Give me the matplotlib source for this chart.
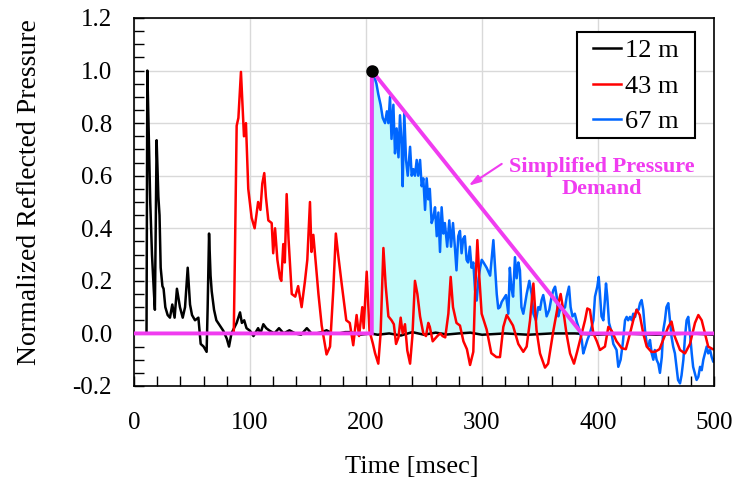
import matplotlib
matplotlib.use("Agg")
import matplotlib.pyplot as plt
from matplotlib.ticker import MultipleLocator
from matplotlib.patches import Rectangle
import numpy as np

plt.rcParams['font.family'] = ['Liberation Serif', 'DejaVu Serif']

# ---------------- data (time [ms], normalized pressure) ----------------
series_12m = [
    (0, 0), (10.8, 0), (11.5, 1.0), (12.5, 0.8), (14, 0.5), (15.5, 0.3), (17, 0.17),
    (18, 0.09), (19.5, 0.735), (21, 0.52), (22, 0.45), (23, 0.25), (24.5, 0.18),
    (25.5, 0.17), (27, 0.1), (29, 0.07), (31, 0.06), (33, 0.11), (35, 0.06),
    (37, 0.17), (38.5, 0.13), (39.6, 0.1), (42, 0.06), (44, 0.1), (46.3, 0.25),
    (48.3, 0.11), (50, 0.07), (52.6, 0.05), (55.5, 0.06), (57.5, -0.04), (60, -0.05),
    (62.6, -0.07), (63.5, 0.1), (64.7, 0.38), (66, 0.22), (67, 0.16), (69, 0.09),
    (71, 0.05), (74, 0.03), (77, 0.01), (80, -0.02), (81.9, -0.05), (84, 0.0),
    (88.5, 0.04), (91.4, 0.08), (93, 0.04), (95, 0.05), (97, 0.02), (100, 0.01),
    (103, -0.01), (107, 0.02), (109, 0.0), (111.5, 0.035), (114, 0.02), (117, 0.01),
    (121, 0.0), (125, 0.02), (129, 0.0), (134, 0.012), (139, 0.0), (144, -0.005),
    (149, 0.02), (153, 0.0), (157, 0.0), (162, 0.005), (166, 0.012), (171, 0.0),
    (177, 0.0), (182, 0.005), (186, 0.005), (195, -0.005), (204, 0.0), (210, -0.005),
    (220, 0.0), (230, -0.008), (240, 0.005), (250, -0.005), (260, 0.003),
    (270, -0.004), (280, 0.0), (290, 0.003), (300, -0.005), (320, 0.0),
    (340, -0.005), (360, 0.0), (380, 0.0), (400, -0.005), (420, 0.0),
    (450, -0.005), (480, 0.0), (500, -0.005),
]

series_43m = [
    (0, 0), (86, 0), (87, 0.3), (88.5, 0.79), (90, 0.82), (91, 0.9), (92.2, 0.995),
    (93.7, 0.85), (94.8, 0.75), (96.5, 0.8), (98.5, 0.55), (101.4, 0.44), (104, 0.40),
    (107, 0.5), (109, 0.47), (110.6, 0.57), (112.3, 0.61), (113.7, 0.52),
    (115.8, 0.43), (118.7, 0.42), (120, 0.305), (121.6, 0.40), (123.6, 0.28),
    (125.9, 0.21), (127, 0.2), (128.7, 0.34), (130, 0.27), (131.6, 0.53),
    (133.2, 0.36), (136, 0.15), (139, 0.14), (141.5, 0.18), (144.5, 0.10),
    (147.4, 0.2), (149.4, 0.28), (151.7, 0.5), (153, 0.31), (154.6, 0.375),
    (157, 0.25), (159, 0.15), (161.8, 0.03), (166, -0.08), (169, -0.05),
    (171.8, 0.165), (174, 0.38), (176, 0.3), (179, 0.19), (183, 0.05), (186, 0.04),
    (189, -0.045), (191.9, 0.07), (194, -0.01), (196.8, 0.1), (198, 0.02),
    (200.6, 0.235), (203, 0.01), (206, -0.04), (207.8, -0.075), (210.6, -0.115),
    (212.6, 0.0), (215, 0.325), (217, 0.18), (219.3, 0.065), (222, 0.05),
    (224, 0.035), (225.9, -0.04), (228, -0.015), (229.9, 0.06), (231.6, 0.0),
    (233.6, 0.035), (235.6, -0.065), (238, -0.115), (240, -0.01), (242.2, 0.2),
    (244.3, 0.15), (246.6, 0.065), (249.4, 0.0), (251.7, -0.01), (253.7, 0.04),
    (255, 0.025), (257.5, -0.03), (259.5, -0.02), (261.5, -0.01), (264, 0.0),
    (266, -0.01), (268.3, -0.015), (271, 0.075), (273, 0.215), (275, 0.1),
    (278, 0.04), (281, 0.03), (284, -0.03), (287, -0.06), (289.7, -0.12),
    (292.5, -0.07), (294, 0.15), (296, 0.355), (297.6, 0.22), (299.7, 0.075),
    (304, 0.015), (308, -0.075), (312.4, -0.09), (315.5, -0.09), (318.4, 0.025),
    (321.3, 0.07), (324, 0.05), (326.7, 0.03), (331.3, -0.04), (335.6, -0.07),
    (338.5, -0.05), (341.4, 0.05), (344.3, 0.19), (345.7, 0.1), (347, 0.013),
    (350, -0.076), (354.3, -0.13), (357, -0.115), (361.5, 0.01), (365.8, 0.115),
    (367.8, 0.15), (370, 0.09), (372.8, 0.0), (375.9, -0.076), (379.3, -0.115),
    (382, -0.07), (386, 0.0), (388.8, 0.05), (390.8, 0.095), (393, 0.09),
    (396, 0.0), (399, -0.03), (401.7, -0.063), (406, -0.05), (408.9, 0.025),
    (411.8, 0.01), (416, -0.03), (420.4, -0.056), (424, -0.06), (427.6, 0.0),
    (430.4, 0.05), (433.3, 0.09), (436, 0.07), (439, 0.0), (442, -0.05),
    (446, -0.07), (449, -0.07), (453, -0.06), (457.5, -0.01), (460.6, 0.025),
    (463.4, 0.045), (466, -0.01), (470.7, -0.063), (475, -0.076), (479.3, -0.04),
    (483.6, 0.04), (486.5, 0.07), (489.4, 0.05), (492.2, 0.0), (495, -0.05),
    (499, -0.06), (500, -0.06),
]

series_67m = [
    (204.5, 0.0), (205.5, 1.0), (206.3, 0.99), (209, 0.95), (210.6, 0.91),
    (212.6, 0.87), (214.4, 0.82), (216.4, 0.8), (218, 0.845), (219.3, 0.8),
    (220.7, 0.9), (222, 0.74), (223.6, 0.87), (225, 0.685), (226.4, 0.78),
    (228, 0.67), (229.3, 0.83), (230.7, 0.72), (231.6, 0.56), (233, 0.84),
    (234.5, 0.66), (236, 0.6), (238, 0.71), (239.4, 0.6), (240.8, 0.625),
    (242.2, 0.6), (243.7, 0.66), (245, 0.6), (246.6, 0.66), (248, 0.56),
    (249.4, 0.59), (250.9, 0.47), (252.3, 0.59), (253.7, 0.51), (255, 0.55),
    (256.6, 0.42), (258, 0.44), (259.5, 0.48), (261, 0.37), (262.4, 0.46),
    (263.8, 0.31), (265.2, 0.48), (266.7, 0.38), (268, 0.42), (270, 0.33),
    (271.8, 0.43), (273.3, 0.33), (275, 0.42), (276.6, 0.33), (278, 0.24),
    (279.5, 0.37), (281, 0.39), (282.4, 0.305), (283.8, 0.36), (285.2, 0.37),
    (286.7, 0.28), (288, 0.27), (289.5, 0.33), (291, 0.25), (292.5, 0.27),
    (294, 0.165), (295.4, 0.125), (297, 0.21), (298.4, 0.25), (299.8, 0.28),
    (301.3, 0.27), (304, 0.25), (307, 0.22), (309.8, 0.355), (311.3, 0.25),
    (312.7, 0.15), (314, 0.095), (315.5, 0.1), (317, 0.12), (318.4, 0.13),
    (320.7, 0.146), (322.7, 0.075), (324, 0.25), (325.4, 0.17), (326.8, 0.14),
    (328.4, 0.29), (329.9, 0.21), (331.3, 0.27), (332.7, 0.24), (334, 0.1),
    (335.6, 0.075), (337, 0.11), (338.5, 0.15), (340.8, 0.2), (342.8, 0.15),
    (344.3, 0.075), (346.5, 0.05), (348.5, 0.1), (350, 0.09), (351.4, 0.127),
    (352.8, 0.146), (354.3, 0.11), (355.7, 0.065), (358, 0.09), (360, 0.14),
    (361.5, 0.165), (363, 0.178), (364.4, 0.14), (365.8, 0.065), (367.2, 0.09),
    (368.7, 0.11), (370, 0.09), (371.6, 0.1), (373, 0.14), (375, 0.178),
    (376.4, 0.1), (378, 0.065), (380, 0.075), (382, 0.04), (384, 0.013),
    (386, -0.025), (387.3, -0.076), (388.8, -0.055), (390.8, -0.025), (393, 0.0),
    (396, 0.05), (397.4, 0.14), (399.4, 0.178), (400.6, 0.215), (401.7, 0.15),
    (403, 0.065), (404.6, 0.05), (406, 0.13), (406.9, 0.19), (408, 0.14),
    (409.5, 0.04), (411.2, 0.013), (413.2, -0.04), (416, -0.063), (417.5, -0.127),
    (419.5, -0.1), (421.3, -0.04), (423.3, 0.05), (424.7, 0.063), (426, 0.05),
    (427.6, 0.063), (429, 0.05), (430.4, 0.075), (432, 0.063), (433.3, 0.09),
    (435, 0.09), (436.2, 0.115), (437.6, 0.127), (439, 0.09), (440.5, 0.013),
    (442, -0.04), (443.4, -0.05), (444.8, -0.025), (446.3, -0.076), (447.7, -0.1),
    (449, -0.063), (450.5, -0.1), (452, -0.115), (453.4, -0.15), (455, -0.09),
    (456.3, 0.013), (457.7, 0.05), (459, 0.1), (460.6, 0.115), (462, 0.05),
    (463.4, -0.013), (464.8, -0.05), (466.3, -0.076), (467.7, -0.127),
    (469, -0.177), (470.7, -0.19), (472, -0.16), (473.6, -0.1), (475, -0.013),
    (476.4, 0.05), (477.8, 0.063), (479.3, 0.0), (480.8, -0.076), (482, -0.127),
    (485, -0.177), (486.5, -0.165), (488, -0.127), (489.4, -0.14), (490.8, -0.1),
    (492.2, -0.076), (493.7, -0.05), (495, -0.076), (496.6, -0.063), (498, -0.09),
    (499.4, -0.108), (500, -0.1),
]

demand_t = [0, 205, 205, 386, 500]
demand_p = [0, 0, 1.0, 0, 0]
peak_point = (205, 1.0)
labels = ['12 m', '43 m', '67 m']
colors = ['#000000', '#ff0000', '#0066ff']
magenta = '#f03cf0'

# ---------------- figure ----------------
fig = plt.figure(figsize=(7.36, 4.83), dpi=100)
ax = fig.add_axes([134 / 736, 1 - 386 / 483, 580 / 736, 368 / 483])

t67 = np.array([p[0] for p in series_67m])
v67 = np.array([p[1] for p in series_67m])
mask = (t67 >= 205) & (t67 <= 386)
ax.fill_between(t67[mask], 0, v67[mask], where=v67[mask] > 0, interpolate=True,
                color='#c4fafa', zorder=1, linewidth=0)

for s, lab, col, z in zip([series_12m, series_43m, series_67m], labels, colors,
                          [2.0, 2.3, 2.2]):
    t = [p[0] for p in s]
    v = [p[1] for p in s]
    ax.plot(t, v, color=col, lw=1.8, label=lab, zorder=z)

ax.plot(demand_t, demand_p, color=magenta, lw=2.8, zorder=3, solid_joinstyle='miter')
ax.plot([peak_point[0]], [peak_point[1]], 'o', color='black', ms=8, zorder=4)

ax.annotate('', xy=(288.5, 0.562), xytext=(317, 0.645),
            arrowprops=dict(arrowstyle='-|>,head_length=0.7,head_width=0.22',
                            color=magenta, lw=1.5, shrinkA=0, shrinkB=0), zorder=5)
ax.text(403, 0.591, 'Simplified Pressure\nDemand', color=magenta, fontsize=16,
        fontweight='bold', ha='center', va='center', linespacing=1.1, zorder=5)

ax.set_xlim(0, 500)
ax.set_ylim(-0.2, 1.2)
ax.xaxis.set_major_locator(MultipleLocator(100))
ax.xaxis.set_minor_locator(MultipleLocator(20))
ax.yaxis.set_major_locator(MultipleLocator(0.2))
ax.yaxis.set_minor_locator(MultipleLocator(0.05))
ax.yaxis.set_major_formatter(plt.FuncFormatter(lambda v, p: f'{v:.1f}'))
ax.tick_params(which='both', direction='in', length=7, width=1, labelsize=18,
               top=False, right=False)
ax.tick_params(axis='x', pad=19)
ax.tick_params(axis='y', pad=16)
ax.grid(True, which='major', color='#d9d9d9', lw=1, zorder=0)
ax.set_axisbelow(True)
for sp in ax.spines.values():
    sp.set_linewidth(1.2)

ax.set_xlabel('Time [msec]', fontsize=19)
ax.set_ylabel('Normalized Reflected Pressure', fontsize=20)
ax.xaxis.set_label_coords((412 - 134) / 580, (386 - 456) / 368)
ax.yaxis.set_label_coords((42 - 134) / 580, (386 - 192) / 368)

# legend: frame drawn as a rectangle, entries placed inside it
box = Rectangle(((577 - 134) / 580, (386 - 138) / 368), 118 / 580, 106 / 368,
                transform=ax.transAxes, facecolor='white', edgecolor='black',
                lw=1.5, zorder=6)
ax.add_patch(box)
leg = ax.legend(loc='upper left', bbox_to_anchor=((593 - 134) / 580, (386 - 39) / 368),
                borderaxespad=0, borderpad=0, fontsize=19, handlelength=1.05,
                handletextpad=0.15, labelspacing=0.45, frameon=False)
leg.set_zorder(7)

fig.savefig('out.png', dpi=100)
